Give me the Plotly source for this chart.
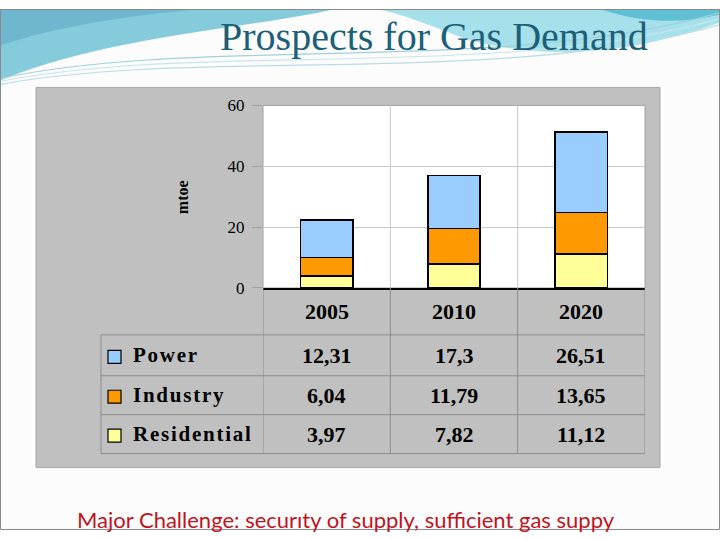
import plotly.graph_objects as go

years = ["2005", "2010", "2020"]
series_names = ["Residential", "Industry", "Power"]
residential = [3.97, 7.82, 11.12]
industry = [6.04, 11.79, 13.65]
power = [12.31, 17.3, 26.51]
colors = {"Power": "#99ccff", "Industry": "#ff9900", "Residential": "#ffff99"}
y_ticks = [0, 20, 40, 60]
title_text = "Prospects for Gas Demand"
footer_text = "Major Challenge: securıty of supply, sufficient gas suppy"

W, H = 720, 540
def px(x): return x / W
def py(y):
    yf = (y - 8.4) / 0.967
    return 1 - yf / H

values = {"Residential": residential, "Industry": industry, "Power": power}

fig = go.Figure()
for name in series_names:
    fig.add_trace(go.Bar(x=years, y=values[name], name=name,
                         marker=dict(color=colors[name], line=dict(color="black", width=1.5)),
                         width=0.41, showlegend=False))

shapes = []
# background decorations
shapes.append(dict(type="rect", xref="paper", yref="paper", x0=0, x1=1, y0=0, y1=1,
                   fillcolor="#fcfcfc", line=dict(width=0), layer="below"))
shapes.append(dict(type="path", xref="paper", yref="paper",
                   path=f"M {px(0)},1 L {px(335)},1 C {px(250)},{py(28)} {px(110)},{py(35)} {px(0)},{py(80)} Z",
                   fillcolor="#86cbdb", line=dict(width=0), layer="below"))
shapes.append(dict(type="path", xref="paper", yref="paper",
                   path=f"M {px(0)},1 L {px(200)},1 C {px(130)},{py(15)} {px(60)},{py(25)} {px(0)},{py(45)} Z",
                   fillcolor="#6fb6cf", line=dict(width=0), layer="below"))
shapes.append(dict(type="path", xref="paper", yref="paper",
                   path=f"M {px(375)},1 L {px(720)},1 L {px(720)},{py(22)} C {px(640)},{py(50)} {px(560)},{py(62)} {px(470)},{py(40)} C {px(430)},{py(25)} {px(400)},{py(12)} {px(375)},1 Z",
                   fillcolor="#a6e0ea", line=dict(width=0), layer="below"))
shapes.append(dict(type="path", xref="paper", yref="paper",
                   path=f"M {px(600)},1 L {px(720)},1 L {px(720)},{py(14)} C {px(680)},{py(24)} {px(640)},{py(22)} {px(600)},1 Z",
                   fillcolor="#5fc0d4", line=dict(width=0), layer="below"))
for off, col in [(0, "#9fd0dc"), (6, "#c5e6ee"), (12, "#b8dde6")]:
    shapes.append(dict(type="path", xref="paper", yref="paper",
                       path=f"M {px(0)},{py(78+off/2)} C {px(200)},{py(35+off)} {px(500)},{py(75+off)} {px(720)},{py(12+off)}",
                       line=dict(color=col, width=1.2), layer="below"))
# slide border
shapes.append(dict(type="rect", xref="paper", yref="paper", x0=px(0.5), x1=px(719.5), y0=0.001, y1=0.999,
                   line=dict(color="#8a8a8a", width=1), layer="below"))
# gray panel
shapes.append(dict(type="rect", xref="paper", yref="paper", x0=px(36), x1=px(660), y0=py(468), y1=py(87),
                   fillcolor="#c0c0c0", line=dict(color="#a8a8a8", width=1), layer="below"))
# white plot area
plot_l, plot_r, plot_t, plot_b = 263, 645, 105, 288
shapes.append(dict(type="rect", xref="paper", yref="paper", x0=px(plot_l), x1=px(plot_r), y0=py(plot_b), y1=py(plot_t),
                   fillcolor="white", line=dict(color="#a0a0a0", width=1), layer="below"))
# vertical gridlines in plot
for i in range(1, len(years)):
    shapes.append(dict(type="line", xref="x", yref="paper", x0=i - 0.5, x1=i - 0.5, y0=py(plot_b), y1=py(plot_t),
                       line=dict(color="#c8c8c8", width=1), layer="below"))
# table lines
row_edges = [288, 335, 376, 415, 454]
tab_l = 101
tcol = "#8c8c8c"
for i in range(len(years) + 1):
    shapes.append(dict(type="line", xref="x", yref="paper", x0=i - 0.5, x1=i - 0.5, y0=py(row_edges[-1]), y1=py(row_edges[0]),
                       line=dict(color=tcol, width=1)))
for y in row_edges[1:]:
    shapes.append(dict(type="line", xref="paper", yref="paper", x0=px(tab_l), x1=px(plot_r), y0=py(y), y1=py(y),
                       line=dict(color=tcol, width=1)))
shapes.append(dict(type="line", xref="paper", yref="paper", x0=px(tab_l), x1=px(tab_l), y0=py(row_edges[-1]), y1=py(row_edges[1]),
                   line=dict(color=tcol, width=1)))

annotations = []
serif = "Liberation Serif"
def ann(**kw):
    kw.setdefault("showarrow", False)
    kw.setdefault("xanchor", "center")
    kw.setdefault("yanchor", "middle")
    annotations.append(kw)

# years header
for j, yr in enumerate(years):
    ann(x=j, xref="x", y=py((row_edges[0] + row_edges[1]) / 2 + 0.5), yref="paper",
        text=f"<b>{yr}</b>", font=dict(family=serif, size=22, color="black"))
table_order = ["Power", "Industry", "Residential"]
for r, name in enumerate(table_order):
    yc = (row_edges[r + 1] + row_edges[r + 2]) / 2
    for j, yr in enumerate(years):
        txt = f"{values[name][j]:g}".replace(".", ",")
        ann(x=j, xref="x", y=py(yc), yref="paper", text=f"<b>{txt}</b>",
            font=dict(family=serif, size=22, color="black"))
    shapes.append(dict(type="rect", xref="paper", yref="paper", x0=px(108), x1=px(121), y0=py(yc + 8), y1=py(yc - 5)),
                  ) if False else None
    shapes.append(dict(type="rect", xref="paper", yref="paper", x0=px(108), x1=px(121), y0=py(yc + 8), y1=py(yc - 5),
                       fillcolor=colors[name], line=dict(color="black", width=1.2)))
    spaced = "\u200a".join(name)
    ann(x=px(131), xref="paper", y=py(yc), yref="paper", xanchor="left", text=f"<b>{spaced}</b>",
        font=dict(family=serif, size=21, color="black"))

ann(x=px(182), y=py(197), xref="paper", yref="paper", text="<b>mtoe</b>", textangle=-90,
    font=dict(family=serif, size=16, color="black"))
ann(x=px(434), y=py(36), xref="paper", yref="paper", text=title_text,
    font=dict(family=serif, size=40, color="#1b5f78"))
ann(x=px(75), y=py(520), xref="paper", yref="paper", xanchor="left", text=footer_text,
    font=dict(family="Lato", size=22, color="#c0141e"))

fig.update_layout(
    width=W, height=H, margin=dict(l=0, r=0, t=0, b=0),
    barmode="stack", bargap=0.59,
    paper_bgcolor="white", plot_bgcolor="rgba(0,0,0,0)",
    xaxis=dict(type="category", domain=[px(plot_l), px(plot_r)], range=[-0.5, len(years) - 0.5], showticklabels=False,
               showgrid=False, showline=True, linecolor="black", linewidth=1.5, zeroline=False, fixedrange=True),
    yaxis=dict(domain=[py(plot_b), py(plot_t)], range=[0, 60], tickvals=y_ticks, ticks="outside", ticklen=10,
               tickcolor="#a0a0a0", showgrid=True, gridcolor="#c8c8c8", gridwidth=1, zeroline=False,
               tickfont=dict(family=serif, size=17, color="black"), ticklabelstandoff=4, showline=False),
    shapes=shapes, annotations=annotations,
)
fig.write_html("out.html")
